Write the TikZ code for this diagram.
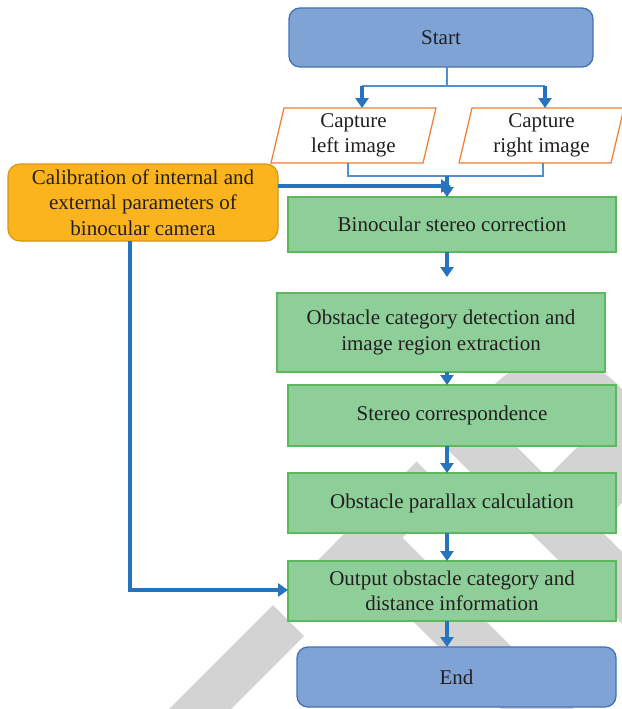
\documentclass[tikz,border=0pt]{standalone}
\usepackage{fontspec}
\setmainfont{Liberation Serif}
\usetikzlibrary{arrows.meta,calc}
\definecolor{txt}{RGB}{35,31,32}
\definecolor{tfill}{RGB}{128,163,213}
\definecolor{tline}{RGB}{68,114,180}
\definecolor{gfill}{RGB}{142,206,153}
\definecolor{gline}{RGB}{92,184,92}
\definecolor{ofill}{RGB}{251,180,30}
\definecolor{oline}{RGB}{214,150,24}
\definecolor{pline}{RGB}{237,125,49}
\definecolor{arrblue}{RGB}{38,116,189}
\definecolor{thinblue}{RGB}{80,145,205}
\definecolor{wmgray}{RGB}{211,211,211}
\tikzset{
  base/.style={font=\fontsize{21}{25.5}\selectfont, text=txt, align=center, inner sep=0pt, outer sep=0pt},
  term/.style={base, rectangle, rounded corners=11pt, fill=tfill, draw=tline, line width=1.3pt},
  proc/.style={base, rectangle, fill=gfill, draw=gline, line width=1.3pt},
  calibsty/.style={base, rectangle, rounded corners=12pt, fill=ofill, draw=oline, line width=1.2pt},
  iosty/.style={base, rectangle},
  para/.style={draw=pline, fill=white, line width=1.2pt, line join=miter},
  arr/.style={draw=arrblue, line width=3.4pt, -{Triangle[length=10pt,width=13pt]}},
  thinln/.style={draw=thinblue, line width=1.7pt},
  wm/.style={fill=wmgray}
}
\begin{document}
\begin{tikzpicture}[x=1pt,y=-1pt]
\useasboundingbox (0,0) rectangle (621,709);
\fill[white] (0,0) rectangle (621,709);
% watermark fragments (parts of large diagonal letters)
\fill[wm] (39,839) -- (273,605) -- (304,636) -- (70,870) -- cycle;
\fill[wm] (290,588) -- (416.5,461.5) -- (447.5,492.5) -- (321,619) -- cycle;
\fill[wm] (335,543) -- (371.5,506.5) -- (682.5,817.5) -- (646,854) -- cycle;
\fill[wm] (438,440) -- (474,404) -- (685,615) -- (649,651) -- cycle;
\fill[wm] (556,446) circle[radius=87];
\fill[wm] (508,510) -- (584,434) -- (615,465) -- (539,541) -- cycle;
\fill[white] (505,435) -- (545,395) -- (587,437) -- (547,477) -- cycle;
% nodes
\node[term, minimum width=304pt, minimum height=59pt] (start) at (441,37.5) {Start};
\node[iosty, minimum width=165pt, minimum height=55pt] (capL) at (353.5,135.5) {};
\node[iosty, minimum width=165pt, minimum height=55pt] (capR) at (541.5,135.5) {};
\draw[para] ($(capL.north west)+(13,0)$) -- (capL.north east) -- ($(capL.south east)+(-13,0)$) -- (capL.south west) -- cycle;
\draw[para] ($(capR.north west)+(13,0)$) -- (capR.north east) -- ($(capR.south east)+(-13,0)$) -- (capR.south west) -- cycle;
\node[base] at (capL.center) {Capture\\left image};
\node[base] at (capR.center) {Capture\\right image};
\node[calibsty, minimum width=270pt, minimum height=77pt] (calib) at (143,202.5) {Calibration of internal and\\external parameters of\\binocular camera};
\node[proc, minimum width=328pt, minimum height=55pt] (binoc) at (452,224.5) {Binocular stereo correction};
\node[proc, minimum width=328pt, minimum height=79pt] (obst) at (441,332.5) {Obstacle category detection and\\image region extraction};
\node[proc, minimum width=328pt, minimum height=61pt] (stereo) at (452,415.5) {Stereo correspondence};
\node[proc, minimum width=328pt, minimum height=60pt] (parallax) at (452,503) {Obstacle parallax calculation};
\node[proc, minimum width=328pt, minimum height=60pt] (output) at (452,591) {Output obstacle category and\\distance information};
\node[term, minimum width=319pt, minimum height=60pt] (endn) at (456.5,677) {End};
% connector coordinates
\coordinate (sj) at (447,86);
\coordinate (lj) at (362,86);
\coordinate (rj) at (545,86);
\coordinate (bl) at (348,176);
\coordinate (br) at (543,176);
\coordinate (bm) at (447,176);
\coordinate (ct) at (451,186);
\coordinate (t1) at (447,277);
\coordinate (cd) at (130,590);
% connectors
\draw[thinln] (start.south -| sj) -- (sj);
\draw[thinln] (lj) -- (rj);
\draw[arr] (lj) -- (lj |- capL.north);
\draw[arr] (rj) -- (rj |- capR.north);
\draw[thinln] (bl |- capL.south) -- (bl) -- (br) -- (br |- capR.south);
\draw[arr] (calib.east |- ct) -- (ct);
\draw[arr] (bm) -- (bm |- binoc.north);
\draw[arr] (binoc.south -| t1) -- (t1);
\draw[arr] (obst.south -| t1) -- (t1 |- stereo.north);
\draw[arr] (stereo.south -| t1) -- (t1 |- parallax.north);
\draw[arr] (parallax.south -| t1) -- (t1 |- output.north);
\draw[arr] (output.south -| t1) -- (t1 |- endn.north);
\draw[arr] (calib.south -| cd) -- (cd) -- (cd -| output.west);
\end{tikzpicture}
\end{document}
